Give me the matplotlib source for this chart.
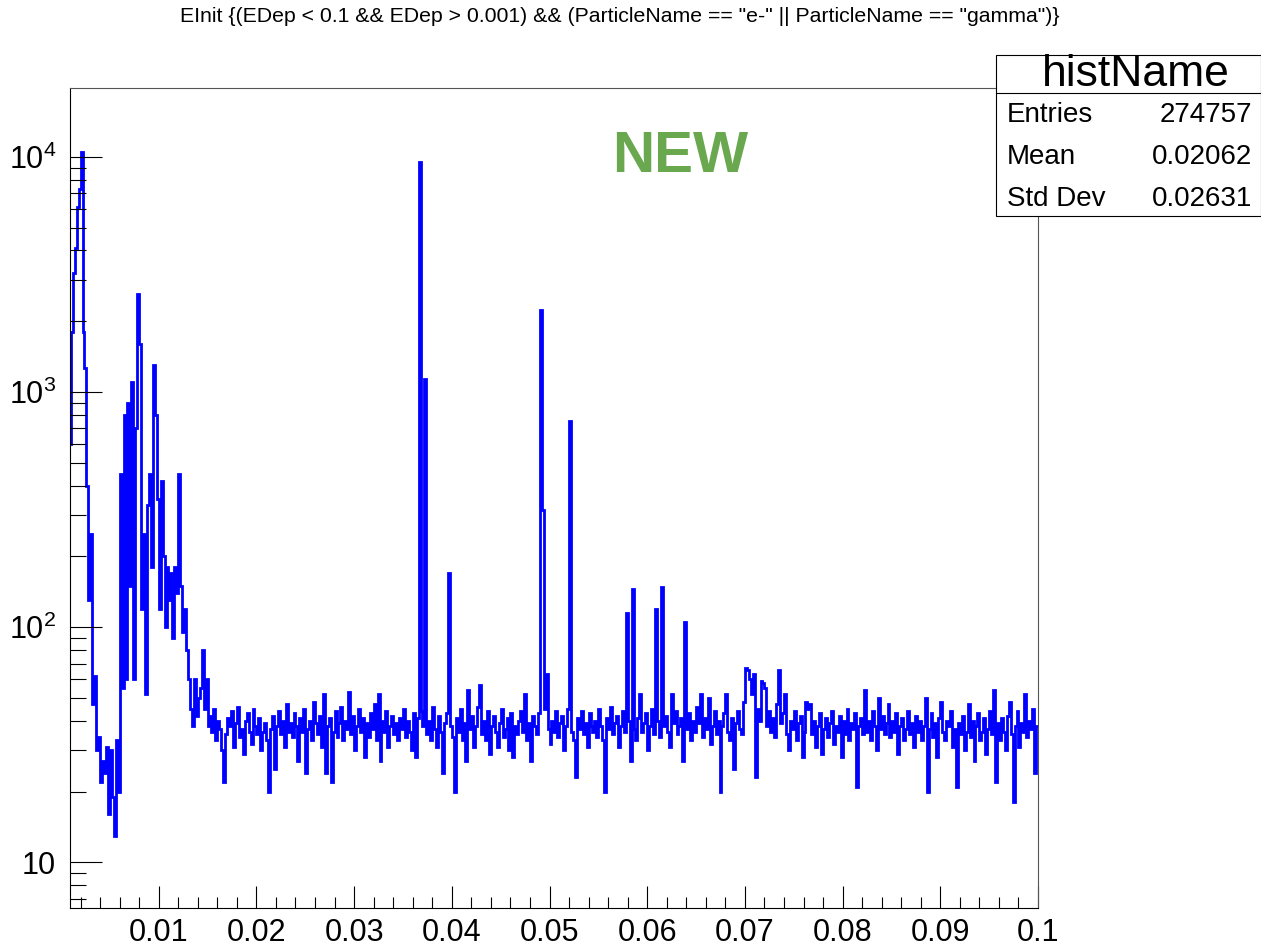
import numpy as np
import matplotlib.pyplot as plt
from matplotlib.ticker import FixedLocator, FixedFormatter, NullFormatter
from matplotlib.patches import Rectangle
from matplotlib.lines import Line2D

plt.rcParams['font.family'] = ['Liberation Sans', 'DejaVu Sans']
plt.rcParams['mathtext.fontset'] = 'custom'
plt.rcParams['mathtext.rm'] = 'Liberation Sans'
plt.rcParams['mathtext.it'] = 'Liberation Sans'

# Histogram binning: 496 bins of 0.0002 from 0.0008 to 0.1
x_lo = 0.0008
x_hi = 0.1
n_bins = 496

# bin contents (bin index in comments)
counts = [
    600, 1800, 3200, 4100, 6100, 7300, 10500, 1800, 1270, 400,      # 0
    131, 250, 47, 62, 30, 34, 22, 27, 24, 31,                       # 10
    16, 30, 19, 13, 33, 20, 450, 55, 800, 60,                       # 20
    900, 150, 1100, 60, 700, 2600, 1600, 120, 250, 52,              # 30
    330, 450, 180, 1300, 800, 350, 120, 420, 200, 100,              # 40
    180, 130, 170, 90, 180, 140, 450, 150, 95, 120,                 # 50
    80, 60, 45, 38, 60, 42, 50, 55, 80, 45,                         # 60
    60, 38, 42, 36, 45, 33, 40, 37, 30, 22,                         # 70
    35, 41, 38, 44, 31, 39, 46, 34, 37, 29,                         # 80
    40, 43, 36, 32, 45, 38, 35, 41, 30, 36,                         # 90
    39, 33, 20, 37, 42, 25, 38, 44, 35, 40,                         # 100
    31, 47, 36, 39, 34, 43, 38, 27, 41, 36,                         # 110
    45, 24, 37, 40, 33, 48, 39, 35, 42, 31,                         # 120
    52, 24, 38, 41, 22, 36, 44, 34, 39, 46,                         # 130
    33, 40, 37, 53, 35, 42, 30, 38, 45, 36,                         # 140
    41, 28, 39, 34, 43, 37, 47, 33, 52, 27,                         # 150
    40, 36, 44, 31, 38, 42, 35, 39, 33, 41,                         # 160
    37, 45, 34, 40, 36, 30, 43, 28, 41, 9500,                       # 170
    44, 38, 1130, 35, 40, 33, 46, 37, 31, 42,                       # 180
    36, 24, 39, 43, 170, 38, 34, 20, 41, 36,                        # 190
    45, 33, 39, 27, 54, 37, 42, 31, 38, 46,                         # 200
    57, 35, 40, 33, 44, 29, 38, 42, 36, 31,                         # 210
    39, 45, 34, 37, 41, 30, 43, 28, 38, 35,                         # 220
    40, 44, 36, 52, 33, 39, 27, 42, 38, 35,                         # 230
    43, 2240, 315, 45, 63, 37, 32, 40, 36, 44,                      # 240
    34, 39, 42, 30, 38, 45, 750, 36, 33, 23,                        # 250
    41, 37, 44, 35, 39, 31, 43, 38, 36, 40,                         # 260
    34, 45, 38, 33, 20, 41, 37, 46, 35, 39,                         # 270
    42, 31, 38, 44, 36, 115, 40, 27, 145, 37,                       # 280
    33, 41, 52, 36, 39, 43, 30, 38, 45, 35,                         # 290
    120, 40, 34, 148, 38, 42, 36, 31, 52, 39,                       # 300
    44, 35, 38, 41, 27, 105, 37, 43, 33, 40,                        # 310
    36, 46, 39, 52, 34, 41, 37, 50, 32, 38,                         # 320
    44, 35, 40, 20, 38, 43, 52, 36, 33, 41,                         # 330
    25, 39, 44, 37, 35, 48, 67, 66, 60, 52,                         # 340
    63, 23, 45, 40, 59, 58, 55, 38, 44, 36,                         # 350
    41, 34, 47, 66, 39, 43, 52, 35, 30, 40,                         # 360
    37, 44, 33, 39, 42, 28, 36, 48, 45, 47,                         # 370
    35, 40, 31, 38, 43, 29, 37, 41, 34, 39,                         # 380
    44, 32, 38, 36, 42, 28, 40, 35, 45, 33,                         # 390
    39, 37, 43, 21, 38, 41, 35, 54, 36, 40,                         # 400
    33, 44, 38, 30, 50, 37, 42, 35, 39, 47,                         # 410
    34, 40, 36, 43, 29, 38, 41, 33, 37, 44,                         # 420
    35, 39, 31, 42, 36, 40, 33, 38, 50, 20,                         # 430
    37, 43, 34, 39, 28, 41, 48, 36, 33, 40,                         # 440
    38, 44, 31, 37, 21, 39, 35, 42, 30, 36,                         # 450
    47, 34, 40, 27, 38, 43, 33, 36, 41, 29,                         # 460
    37, 44, 35, 54, 22, 39, 33, 41, 36, 30,                         # 470
    42, 48, 35, 18, 38, 44, 31, 39, 36, 52,                         # 480
    34, 40, 37, 45, 24, 38,                                         # 490
]

x_major = [0.01, 0.02, 0.03, 0.04, 0.05, 0.06, 0.07, 0.08, 0.09, 0.1]
x_labels = ["0.01", "0.02", "0.03", "0.04", "0.05", "0.06", "0.07", "0.08", "0.09", "0.1"]
y_major = [10, 100, 1000, 10000]
y_labels = ["10", r"$10^{2}$", r"$10^{3}$", r"$10^{4}$"]

title = 'EInit {(EDep < 0.1 && EDep > 0.001) && (ParticleName == "e-" || ParticleName == "gamma")}'
stats_name = "histName"
stats_rows = [("Entries", "274757"), ("Mean", "0.02062"), ("Std Dev", "0.02631")]

W, H = 1261, 946
def fx(px):
    return px / W
def fy(py):
    return 1 - py / H

fig = plt.figure(figsize=(W / 100, H / 100), dpi=100)
ax = fig.add_axes([fx(70), fy(908), fx(1038) - fx(70), fy(88) - fy(908)])

edges = np.linspace(x_lo, x_hi, n_bins + 1)
ax.stairs(counts, edges, color='blue', lw=2, baseline=None)

ax.set_yscale('log')
ax.set_xlim(0.00092, 0.1)
ax.set_ylim(6.4, 19600)

ax.xaxis.set_major_locator(FixedLocator(x_major))
ax.xaxis.set_major_formatter(FixedFormatter(x_labels))
ax.xaxis.set_minor_locator(FixedLocator(np.arange(0.002, 0.1, 0.002)))
ax.yaxis.set_major_locator(FixedLocator(y_major))
ax.yaxis.set_major_formatter(FixedFormatter(y_labels))
minor_y = [m * 10 ** e for e in range(0, 5) for m in range(2, 10)]
ax.yaxis.set_minor_locator(FixedLocator(minor_y))
ax.yaxis.set_minor_formatter(NullFormatter())

ax.tick_params(which='both', direction='in', top=False, right=False,
               width=0.8, color='black', labelsize=22)
ax.tick_params(axis='x', which='major', length=15.5, pad=7)
ax.tick_params(axis='x', which='minor', length=8)
ax.tick_params(axis='y', which='major', length=23, pad=10)
ax.tick_params(axis='y', which='minor', length=11.5)
for s in ax.spines.values():
    s.set_linewidth(0.8)
    s.set_color('black')
ax.spines['right'].set_color('#555555')
ax.spines['top'].set_color('#555555')

fig.text(fx(620), fy(16), title, ha='center', va='center', fontsize=15.3)

fig.text(fx(680), fy(157), "NEW", ha='center', va='center', fontsize=42,
         fontweight='bold', color='#6aa84f')

# stats box
box = Rectangle((fx(996), fy(216)), fx(1261) - fx(996), fy(55) - fy(216),
                transform=fig.transFigure, facecolor='white', edgecolor='black',
                lw=0.8, zorder=5)
fig.patches.append(box)
fig.lines.append(Line2D([fx(996), fx(1261)], [fy(93), fy(93)],
                        transform=fig.transFigure, color='black', lw=0.8, zorder=6))
fig.text(fx(1136), fy(75), stats_name, ha='center', va='center', fontsize=32, zorder=7)
for i, (k, v) in enumerate(stats_rows):
    yy = fy(115 + 42 * i)
    fig.text(fx(1007), yy, k, ha='left', va='center', fontsize=20, zorder=7)
    fig.text(fx(1252), yy, v, ha='right', va='center', fontsize=20, zorder=7)

fig.savefig('out.png', dpi=100)
